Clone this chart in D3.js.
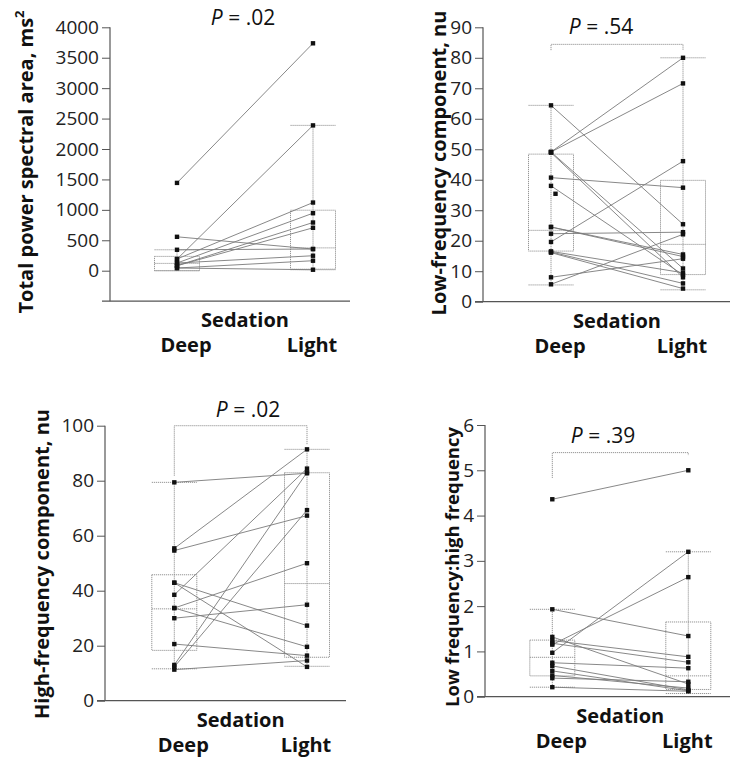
<!DOCTYPE html>
<html><head><meta charset="utf-8">
<script src="https://cdn.jsdelivr.net/npm/d3@7"></script>
<style>
html,body{margin:0;padding:0;background:#fff;}
svg{display:block;font-family:"Open Sans","Noto Sans",sans-serif;}
</style></head>
<body>
<svg id="chart" width="746" height="762"></svg>
<script>
const categories = ["Deep", "Light"];

// Panel A: Total power spectral area (ms²)
const tpDeep  = [1443, 190, 557, 344, 192, 126, 82, 82, 126, 44, 44];
const tpLight = [3737, 2388, 356, 356, 1120, 945, 792, 705, 246, 164, 16];
const tpBoxDeep  = [0, 0, 120, 235, 344];     // lower whisker, Q1, median, Q3, upper whisker
const tpBoxLight = [16, 25, 375, 994, 2388];
const tpTicks = [0, 500, 1000, 1500, 2000, 2500, 3000, 3500, 4000];

// Panel B: Low-frequency component (nu)
const lfDeep  = [64.4, 49.1, 49.1, 49.1, 48.9, 40.7, 38.0, 24.5, 24.5, 22.3, 19.6, 16.5, 16.1, 8.0, 5.7, 16.3];
const lfLight = [25.4, 80.0, 71.6, 10.9, 8.0, 37.4, 8.8, 15.5, 14.8, 22.8, 46.1, 9.5, 4.3, 14.1, 22.1, 6.0];
const lfDeepUnpaired = [35.4];
const lfBoxDeep  = [5.5, 16.6, 23.4, 48.4, 64.4];
const lfBoxLight = [3.9, 8.9, 18.8, 39.8, 80.0];
const lfTicks = [0, 10, 20, 30, 40, 50, 60, 70, 80, 90];

// Panel C: High-frequency component (nu)
const hfDeep  = [79.4, 55.4, 54.6, 42.9, 42.9, 38.5, 33.7, 33.7, 30.0, 20.6, 13.0, 12.3, 11.3];
const hfLight = [82.7, 91.4, 67.3, 27.3, 12.3, 84.4, 50.0, 19.6, 34.9, 16.4, 83.0, 69.3, 14.6];
const hfBoxDeep  = [11.6, 18.3, 33.4, 45.8, 79.4];
const hfBoxLight = [12.5, 15.8, 42.6, 82.9, 91.4];
const hfTicks = [0, 20, 40, 60, 80, 100];

// Panel D: Low frequency : high frequency
const lhDeep  = [4.36, 1.93, 1.32, 1.24, 1.18, 1.15, 0.97, 0.75, 0.68, 0.57, 0.47, 0.41, 0.21];
const lhLight = [5.00, 1.34, 0.28, 0.88, 0.76, 2.64, 3.20, 0.63, 0.15, 0.13, 0.19, 0.33, 0.12];
const lhBoxDeep  = [0.21, 0.46, 0.87, 1.25, 1.93];
const lhBoxLight = [0.07, 0.16, 0.46, 1.65, 3.20];
const lhTicks = [0, 1, 2, 3, 4, 5, 6];

const pLabels = [".02", ".54", ".02", ".39"];
const yTitles = ["Total power spectral area, ms", "Low-frequency component, nu", "High-frequency component, nu", "Low frequency:high frequency"];
const xTitle = "Sedation";

// bracket: [level, left end, right end] in data units (null = none)
const brackets = [null, [84.4, 82.5, 82.5], [100, 81.8, 93.2], [5.39, 4.83, 5.33]];

const panels = [
  {deep: tpDeep, light: tpLight, extra: [], boxD: tpBoxDeep, boxL: tpBoxLight, ticks: tpTicks, dom: [0, 4000], axisMin: -500,
   axisX: 110, yRange: [270.7, 27.3], xRange: [177, 313], xEnd: 350, titleX: 33, titleY: 162, titleSize: 20, pX: 243, pY: 25, sup: true},
  {deep: lfDeep, light: lfLight, extra: lfDeepUnpaired, boxD: lfBoxDeep, boxL: lfBoxLight, ticks: lfTicks, dom: [0, 90], axisMin: 0,
   axisX: 483, yRange: [301.7, 27.3], xRange: [551, 683], xEnd: 730, titleX: 446, titleY: 163, titleSize: 20, pX: 601, pY: 34},
  {deep: hfDeep, light: hfLight, extra: [], boxD: hfBoxDeep, boxL: hfBoxLight, ticks: hfTicks, dom: [0, 100], axisMin: 0,
   axisX: 105, yRange: [700.7, 425.7], xRange: [174.3, 307], xEnd: 346, titleX: 49, titleY: 564, titleSize: 20, pX: 248, pY: 417},
  {deep: lhDeep, light: lhLight, extra: [], boxD: lhBoxDeep, boxL: lhBoxLight, ticks: lhTicks, dom: [0, 6], axisMin: 0,
   axisX: 485, yRange: [696.7, 425], xRange: [552.3, 688.3], xEnd: 730, titleX: 459, titleY: 567, titleSize: 18.5, pX: 603, pY: 443}
];

const svg = d3.select("#chart");
const GRID = "#8a8a8a", LINE = "#7a7a7a", AX = "#555";
const boxHalf = 22.5;

panels.forEach((p, i) => {
  const g = svg.append("g");
  const y = d3.scaleLinear().domain(p.dom).range(p.yRange);
  const x = d3.scalePoint().domain(categories).range(p.xRange);

  // y axis
  const ax = g.append("g").attr("transform", `translate(${p.axisX},0)`)
    .call(d3.axisLeft(y).tickValues(p.ticks).tickFormat(d3.format("d")).tickSize(8).tickPadding(3).tickSizeOuter(0));
  ax.select(".domain").remove();
  ax.selectAll(".tick line").attr("stroke", AX).attr("stroke-width", 1);
  ax.selectAll(".tick text").attr("fill", "#222").attr("font-size", 19)
    .attr("font-family", "'Open Sans', sans-serif");
  g.append("line").attr("x1", p.axisX).attr("x2", p.axisX)
    .attr("y1", y(p.dom[1])).attr("y2", y(p.axisMin)).attr("stroke", AX).attr("stroke-width", 1.2);
  // x axis baseline
  g.append("line").attr("x1", p.axisX - 8).attr("x2", p.xEnd)
    .attr("y1", y(p.axisMin)).attr("y2", y(p.axisMin)).attr("stroke", AX).attr("stroke-width", 1.2);

  // boxes
  [[categories[0], p.boxD], [categories[1], p.boxL]].forEach(([c, b]) => {
    const cx = x(c);
    const bg = g.append("g").attr("stroke", GRID).attr("stroke-width", 0.9).attr("stroke-dasharray", "1.2,0.8").attr("fill", "none");
    bg.append("line").attr("x1", cx).attr("x2", cx).attr("y1", y(b[0])).attr("y2", y(b[4]));
    bg.append("rect").attr("x", cx - boxHalf).attr("width", 2 * boxHalf)
      .attr("y", y(b[3])).attr("height", y(b[1]) - y(b[3])).attr("fill", "none");
    bg.append("line").attr("x1", cx - boxHalf).attr("x2", cx + boxHalf).attr("y1", y(b[2])).attr("y2", y(b[2]));
    [b[0], b[4]].forEach(v => bg.append("line").attr("x1", cx - boxHalf).attr("x2", cx + boxHalf).attr("y1", y(v)).attr("y2", y(v)));
  });

  // bracket
  const br = brackets[i];
  if (br) {
    const xl = x(categories[0]), xr = x(categories[1]);
    g.append("path").attr("d", `M${xl},${y(br[1])}V${y(br[0])}H${xr}V${y(br[2])}`)
      .attr("fill", "none").attr("stroke", GRID).attr("stroke-width", 0.9).attr("stroke-dasharray", "1.2,0.8");
  }

  // paired lines
  const pairs = p.deep.map((d, k) => [d, p.light[k]]);
  g.selectAll(".pl").data(pairs).join("line")
    .attr("x1", x(categories[0])).attr("x2", x(categories[1]))
    .attr("y1", d => y(d[0])).attr("y2", d => y(d[1]))
    .attr("stroke", LINE).attr("stroke-width", 0.9);

  // points
  const pts = [];
  p.deep.forEach(v => pts.push([x(categories[0]), y(v)]));
  p.light.forEach(v => pts.push([x(categories[1]), y(v)]));
  p.extra.forEach(v => pts.push([x(categories[0]) + 4.5, y(v)]));
  g.selectAll(".pt").data(pts).join("rect")
    .attr("x", d => d[0] - 2.2).attr("y", d => d[1] - 2.2).attr("width", 4.4).attr("height", 4.4).attr("fill", "#111");

  // P label
  const pt = g.append("text").attr("x", p.pX).attr("y", p.pY).attr("text-anchor", "middle")
    .attr("font-size", 21).attr("fill", "#111");
  pt.append("tspan").attr("font-style", "italic").text("P");
  pt.append("tspan").text(" = " + pLabels[i]);

  // y title
  const yt = g.append("text").attr("transform", `translate(${p.titleX},${p.titleY}) rotate(-90)`)
    .attr("text-anchor", "middle").attr("font-size", p.titleSize).attr("font-weight", 700).attr("fill", "#111")
    .text(yTitles[i]);
  if (p.sup) yt.append("tspan").attr("font-size", 13).attr("dy", -9).text("2");

  // x titles
  const base = y(p.axisMin);
  const midX = (x(categories[0]) + x(categories[1])) / 2;
  g.append("text").attr("x", midX).attr("y", base + 26).attr("text-anchor", "middle")
    .attr("font-size", 20).attr("font-weight", 700).attr("fill", "#111").text(xTitle);
  g.append("text").attr("x", x(categories[0]) + 9).attr("y", base + 51).attr("text-anchor", "middle")
    .attr("font-size", 20).attr("font-weight", 700).attr("fill", "#111").text(categories[0]);
  g.append("text").attr("x", x(categories[1]) - 1).attr("y", base + 51).attr("text-anchor", "middle")
    .attr("font-size", 20).attr("font-weight", 700).attr("fill", "#111").text(categories[1]);
});
</script>
</body></html>
